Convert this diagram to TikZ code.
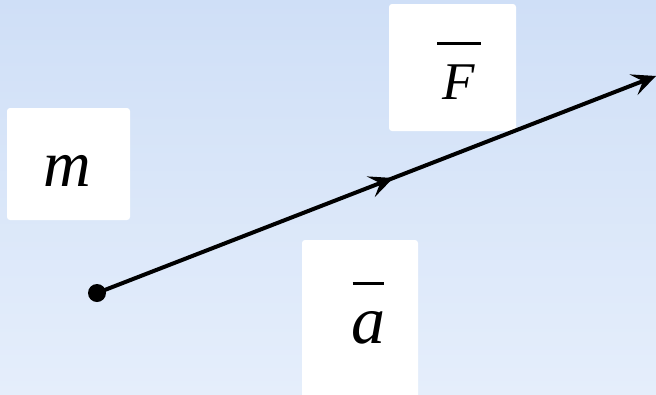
\documentclass[tikz,border=0pt]{standalone}
\usepackage{fontspec}
\setmainfont{Liberation Serif}
\usetikzlibrary{arrows.meta,decorations.markings}
\definecolor{bgtop}{HTML}{CFDFF7}
\definecolor{bgbot}{HTML}{E5EEFB}
\newcommand\barlab[4]{% bar width, gap, letter, size
  {\fontsize{#4}{#4}\selectfont\begin{tabular}[b]{@{}c@{}}\rule{#1}{3pt}\\[#2]\itshape #3\end{tabular}}}
\begin{document}
\begin{tikzpicture}[x=1pt,y=-1pt,
  labbox/.style={fill=white, rounded corners=3pt, inner sep=0pt},
  labtext/.style={inner sep=0pt, anchor=base},
  vec/.style={line width=4pt, -{Stealth[length=24pt,width=22pt,inset=10pt]}},
  midhead/.style={postaction={decorate},
    decoration={markings, mark=at position 0.53 with {\arrow{Stealth[length=24pt,width=22pt,inset=10pt]}}}}]
\useasboundingbox (0,0) rectangle (656,394);
\shade[top color=bgtop, bottom color=bgbot] (0,0) rectangle (656,394);
\node[labbox, minimum width=123pt, minimum height=112pt] (m) at (68.5,164) {};
\node[labbox, minimum width=127pt, minimum height=127pt] (F) at (452.5,67.5) {};
\node[labbox, minimum width=116pt, minimum height=162pt] (a) at (360,321) {};
\node[labtext] (mt) at (67.5,186) {\fontsize{66}{66}\selectfont\itshape m};
\node[labtext] (Ft) at (459,99) {\barlab{44pt}{1pt}{F}{53}};
\node[labtext] (at) at (368,343) {\barlab{31pt}{-9.5pt}{a}{68}};
\node[circle, fill=black, minimum size=18pt, inner sep=0pt] (dot) at (97,293) {};
\coordinate (tip) at (656,76);
\draw[vec, midhead] (dot.center) -- (tip);
\end{tikzpicture}
\end{document}
